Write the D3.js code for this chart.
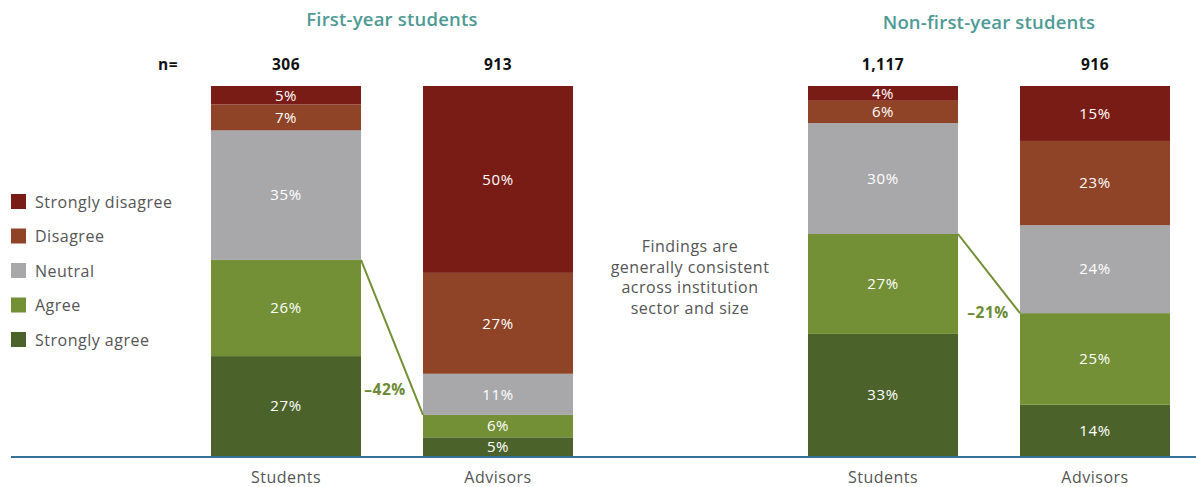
<!DOCTYPE html>
<html>
<head>
<meta charset="utf-8">
<script src="https://cdn.jsdelivr.net/npm/d3@7"></script>
<style>
  body { margin: 0; background: #fff; }
  svg { display: block; font-family: "Open Sans", "Noto Sans", sans-serif; }
</style>
</head>
<body>
<svg id="chart" width="1196" height="487"></svg>
<script>
// Response levels, top of the stack first
const levels = ["Strongly disagree", "Disagree", "Neutral", "Agree", "Strongly agree"];
const levelColors = ["#7a1c16", "#8f4327", "#a8a8ab", "#739036", "#4b632b"];

// Panels and their respondent groups
const panels = ["First-year students", "Non-first-year students"];
const groups = ["Students", "Advisors"];

// Share of respondents (%) per level, in the order of `levels`
const firstYearStudents = [5, 7, 35, 26, 27];
const firstYearAdvisors = [50, 27, 11, 6, 5];
const otherStudents = [4, 6, 30, 27, 33];
const otherAdvisors = [15, 23, 24, 25, 14];

// Sample sizes
const sampleSizes = [["306", "913"], ["1,117", "916"]];

// Gap in agreement (agree + strongly agree) between students and advisors
const agreementGaps = ["–42%", "–21%"];

const note = ["Findings are", "generally consistent", "across institution", "sector and size"];

const panelValues = [
  [firstYearStudents, firstYearAdvisors],
  [otherStudents, otherAdvisors]
];

// Layout
const svg = d3.select("#chart");
const baseY = 456, topY = 86;
const panelRanges = [[211, 573], [808, 1170]];
const gapLabelShift = [[-7, -20], [-1, 5]];   // [dx, dy] from connector end
const titleY = [26, 29];

// Vertical share scale (stack is normalised to the full bar)
const y = d3.scaleLinear().domain([0, 1]).range([baseY, topY]);

// Horizontal band scale per panel
const xScales = panelRanges.map(r =>
  d3.scaleBand().domain(groups).range(r).paddingInner(0.2925).paddingOuter(0)
);

const color = d3.scaleOrdinal().domain(levels).range(levelColors);

// Stack from the bottom: strongly agree first
const stackKeys = levels.slice().reverse();
const stack = d3.stack().keys(stackKeys).offset(d3.stackOffsetExpand);

panels.forEach((panel, pi) => {
  const x = xScales[pi];
  const rows = groups.map((g, gi) => {
    const row = { group: g };
    levels.forEach((l, li) => row[l] = panelValues[pi][gi][li]);
    return row;
  });
  const series = stack(rows);

  const g = svg.append("g");

  series.forEach(s => {
    s.forEach((d, gi) => {
      const x0 = x(groups[gi]);
      const yTop = y(d[1]), yBot = y(d[0]);
      g.append("rect")
        .attr("x", x0).attr("y", yTop)
        .attr("width", x.bandwidth()).attr("height", yBot - yTop)
        .attr("fill", color(s.key));
      g.append("text")
        .attr("x", x0 + x.bandwidth() / 2)
        .attr("y", (yTop + yBot) / 2)
        .attr("dy", "0.35em")
        .attr("text-anchor", "middle")
        .attr("fill", "#fff")
        .attr("font-size", 15)
        .attr("letter-spacing", 0.6)
        .text(d.data[s.key] + "%");
    });
  });

  // Connector between the tops of the agreement stacks
  const agree = series.find(s => s.key === "Agree");
  const xs = x(groups[0]) + x.bandwidth();
  const xa = x(groups[1]);
  const y1 = y(agree[0][1]), y2 = y(agree[1][1]);
  g.append("line")
    .attr("x1", xs).attr("y1", y1).attr("x2", xa).attr("y2", y2)
    .attr("stroke", "#739036").attr("stroke-width", 2);
  g.append("text")
    .attr("x", (xs + xa) / 2 + gapLabelShift[pi][0])
    .attr("y", y2 + gapLabelShift[pi][1])
    .attr("text-anchor", "middle")
    .attr("fill", "#6b8a33")
    .attr("font-weight", "bold")
    .attr("font-size", 15.5)
    .attr("letter-spacing", 0.5)
    .text(agreementGaps[pi]);

  // Panel title
  g.append("text")
    .attr("x", (x(groups[0]) + x(groups[1]) + x.bandwidth()) / 2)
    .attr("y", titleY[pi])
    .attr("text-anchor", "middle")
    .attr("fill", "#4e9a95")
    .attr("font-weight", 600)
    .attr("font-size", 18.5)
    .attr("letter-spacing", 0.2)
    .text(panel);

  // Sample sizes
  groups.forEach((grp, gi) => {
    g.append("text")
      .attr("x", x(grp) + x.bandwidth() / 2)
      .attr("y", 70)
      .attr("text-anchor", "middle")
      .attr("fill", "#111")
      .attr("font-weight", "bold")
      .attr("font-size", 15.5)
      .attr("letter-spacing", 0.5)
      .text(sampleSizes[pi][gi]);
  });

  // Category axis labels
  const axis = d3.axisBottom(x).tickSize(0).tickPadding(0);
  const ag = g.append("g").attr("transform", `translate(0,${baseY})`).call(axis);
  ag.select(".domain").remove();
  ag.selectAll("text")
    .attr("y", 27)
    .attr("dy", 0)
    .attr("fill", "#555")
    .attr("font-size", 16)
    .attr("letter-spacing", 0.5)
    .attr("font-family", "\"Open Sans\", \"Noto Sans\", sans-serif");
});

svg.append("text")
  .attr("x", 168).attr("y", 70)
  .attr("text-anchor", "middle")
  .attr("fill", "#111").attr("font-weight", "bold").attr("font-size", 15.5)
  .attr("letter-spacing", 0.5)
  .text("n=");

// Baseline
svg.append("line")
  .attr("x1", 11).attr("x2", 1196)
  .attr("y1", baseY + 1).attr("y2", baseY + 1)
  .attr("stroke", "#35709a").attr("stroke-width", 2);

// Legend
const legend = svg.append("g").attr("transform", "translate(11,194)");
levels.forEach((l, i) => {
  const row = legend.append("g").attr("transform", `translate(0,${i * 34.5})`);
  row.append("rect").attr("width", 15).attr("height", 15).attr("fill", color(l));
  row.append("text")
    .attr("x", 24).attr("y", 8).attr("dy", "0.36em")
    .attr("fill", "#555").attr("font-size", 16)
    .attr("letter-spacing", 0.5)
    .text(l);
});

// Side note
const noteText = svg.append("text")
  .attr("text-anchor", "middle")
  .attr("fill", "#555")
  .attr("font-size", 16)
  .attr("letter-spacing", 0.5);
note.forEach((line, i) => {
  noteText.append("tspan").attr("x", 690).attr("y", 252 + i * 20.5).text(line);
});
</script>
</body>
</html>
